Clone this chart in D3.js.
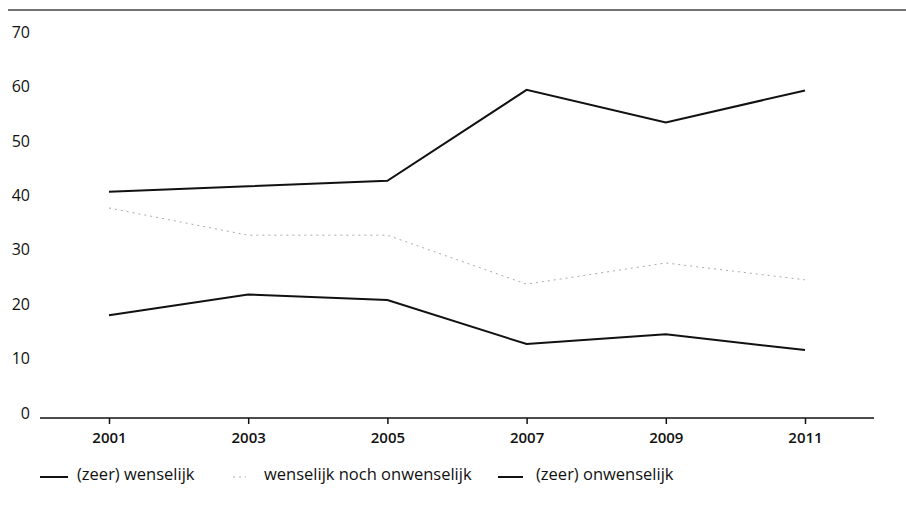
<!DOCTYPE html>
<html>
<head>
<meta charset="utf-8">
<script src="https://cdn.jsdelivr.net/npm/d3@7"></script>
<style>
  html, body { margin: 0; padding: 0; background: #fff; }
  svg { display: block; font-family: "Open Sans", sans-serif; }
</style>
</head>
<body>
<svg id="chart" width="906" height="513"></svg>
<script>
const years = [2001, 2003, 2005, 2007, 2009, 2011];
const yTicks = [0, 10, 20, 30, 40, 50, 60, 70];
const seriesNames = ["(zeer) wenselijk", "wenselijk noch onwenselijk", "(zeer) onwenselijk"];
const wenselijk = [41.4, 42.4, 43.4, 60.1, 54.1, 60.0];
const neutraal = [38.4, 33.4, 33.4, 24.4, 28.3, 25.2];
const onwenselijk = [18.7, 22.5, 21.5, 13.4, 15.2, 12.3];

const svg = d3.select("#chart");

const x = d3.scalePoint().domain(years).range([109, 805]);
const y = d3.scaleLinear().domain([0, 70]).range([417, 36]);

// top rule
svg.append("line").attr("x1", 8).attr("x2", 906).attr("y1", 10).attr("y2", 10)
  .attr("stroke", "#444").attr("stroke-width", 1.5);

// y labels
svg.append("g").selectAll("text").data(yTicks).join("text")
  .attr("x", 30).attr("y", d => y(d) - 2.5)
  .attr("text-anchor", "end").attr("dominant-baseline", "middle")
  .attr("font-size", 16).attr("font-weight", 500).attr("fill", "#111")
  .text(d => d);

// x axis
const xAxis = d3.axisBottom(x).tickSize(6).tickPadding(8).tickSizeOuter(0);
const gx = svg.append("g").attr("transform", `translate(0,${y(0) + 1})`).call(xAxis);
gx.select(".domain").remove();
gx.append("line").attr("x1", 40).attr("x2", 874).attr("y1", 0).attr("y2", 0)
  .attr("stroke", "#111").attr("stroke-width", 1.5);
gx.selectAll(".tick line").attr("stroke", "#111").attr("stroke-width", 1.5);
gx.selectAll(".tick text").attr("font-size", 15).attr("font-weight", 600).attr("fill", "#111")
  .attr("font-family", "Open Sans, sans-serif");

const line = d3.line().x((d, i) => x(years[i])).y(d => y(d));

svg.append("path").datum(neutraal).attr("d", line)
  .attr("fill", "none").attr("stroke", "#aaa").attr("stroke-width", 1)
  .attr("stroke-dasharray", "2,4");
svg.append("path").datum(wenselijk).attr("d", line)
  .attr("fill", "none").attr("stroke", "#111").attr("stroke-width", 2);
svg.append("path").datum(onwenselijk).attr("d", line)
  .attr("fill", "none").attr("stroke", "#111").attr("stroke-width", 2);

// legend
const legend = [
  { x1: 40, x2: 68, tx: 77, color: "#111", w: 2, dash: null },
  { x1: 233, x2: 246, tx: 264, color: "#aaa", w: 1, dash: "2,4" },
  { x1: 498, x2: 523, tx: 536, color: "#111", w: 2, dash: null }
];
const lg = svg.append("g").selectAll("g").data(legend).join("g");
lg.append("line").attr("x1", d => d.x1).attr("x2", d => d.x2)
  .attr("y1", 477).attr("y2", 477)
  .attr("stroke", d => d.color).attr("stroke-width", d => d.w)
  .attr("stroke-dasharray", d => d.dash);
lg.append("text").attr("x", d => d.tx).attr("y", 476)
  .attr("dominant-baseline", "middle").attr("font-size", 16.5).attr("font-weight", 500).attr("fill", "#111")
  .text((d, i) => seriesNames[i]);
</script>
</body>
</html>
